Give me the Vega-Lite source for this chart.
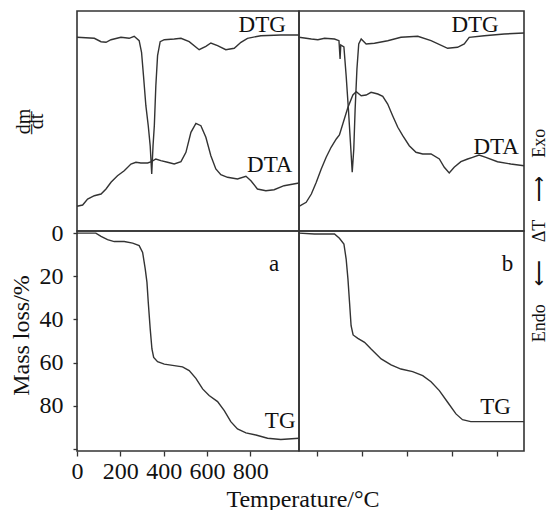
{
  "$schema": "https://vega.github.io/schema/vega-lite/v6.json",
  "padding": {"left": 8, "top": 10, "right": 0, "bottom": 0},
  "columns": 2,
  "spacing": 0,
  "bounds": "flush",
  "datasets": {
    "curves": [
      {"panel":"a","series":"DTG","T":0,"value":193.7},
      {"panel":"a","series":"DTG","T":80,"value":192.7},
      {"panel":"a","series":"DTG","T":111,"value":189.3},
      {"panel":"a","series":"DTG","T":134,"value":188.7},
      {"panel":"a","series":"DTG","T":157,"value":191.3},
      {"panel":"a","series":"DTG","T":203,"value":193.7},
      {"panel":"a","series":"DTG","T":241,"value":192.7},
      {"panel":"a","series":"DTG","T":264,"value":194.7},
      {"panel":"a","series":"DTG","T":287,"value":190.3},
      {"panel":"a","series":"DTG","T":298,"value":178.7},
      {"panel":"a","series":"DTG","T":307,"value":155.3},
      {"panel":"a","series":"DTG","T":318,"value":125.3},
      {"panel":"a","series":"DTG","T":329,"value":105.3},
      {"panel":"a","series":"DTG","T":338,"value":85},
      {"panel":"a","series":"DTG","T":345,"value":57},
      {"panel":"a","series":"DTG","T":351,"value":85},
      {"panel":"a","series":"DTG","T":357,"value":105.3},
      {"panel":"a","series":"DTG","T":364,"value":145.3},
      {"panel":"a","series":"DTG","T":372,"value":175.3},
      {"panel":"a","series":"DTG","T":384,"value":189.3},
      {"panel":"a","series":"DTG","T":403,"value":191.3},
      {"panel":"a","series":"DTG","T":449,"value":192},
      {"panel":"a","series":"DTG","T":480,"value":192.7},
      {"panel":"a","series":"DTG","T":518,"value":189.3},
      {"panel":"a","series":"DTG","T":564,"value":181.3},
      {"panel":"a","series":"DTG","T":595,"value":184.7},
      {"panel":"a","series":"DTG","T":618,"value":188},
      {"panel":"a","series":"DTG","T":649,"value":185.3},
      {"panel":"a","series":"DTG","T":687,"value":181.3},
      {"panel":"a","series":"DTG","T":726,"value":182.7},
      {"panel":"a","series":"DTG","T":757,"value":188.7},
      {"panel":"a","series":"DTG","T":787,"value":192.7},
      {"panel":"a","series":"DTG","T":849,"value":195.3},
      {"panel":"a","series":"DTG","T":941,"value":196},
      {"panel":"a","series":"DTG","T":1025,"value":196},
      {"panel":"a","series":"DTA","T":0,"value":24.7},
      {"panel":"a","series":"DTA","T":26,"value":26},
      {"panel":"a","series":"DTA","T":49,"value":32},
      {"panel":"a","series":"DTA","T":80,"value":35.3},
      {"panel":"a","series":"DTA","T":111,"value":37},
      {"panel":"a","series":"DTA","T":134,"value":42},
      {"panel":"a","series":"DTA","T":157,"value":48.7},
      {"panel":"a","series":"DTA","T":187,"value":55.3},
      {"panel":"a","series":"DTA","T":218,"value":60.3},
      {"panel":"a","series":"DTA","T":249,"value":67},
      {"panel":"a","series":"DTA","T":272,"value":68.7},
      {"panel":"a","series":"DTA","T":295,"value":68},
      {"panel":"a","series":"DTA","T":326,"value":68},
      {"panel":"a","series":"DTA","T":344,"value":69.3},
      {"panel":"a","series":"DTA","T":364,"value":72},
      {"panel":"a","series":"DTA","T":387,"value":70.3},
      {"panel":"a","series":"DTA","T":418,"value":68.7},
      {"panel":"a","series":"DTA","T":449,"value":67},
      {"panel":"a","series":"DTA","T":480,"value":69.3},
      {"panel":"a","series":"DTA","T":503,"value":78.7},
      {"panel":"a","series":"DTA","T":526,"value":98.7},
      {"panel":"a","series":"DTA","T":549,"value":107.7},
      {"panel":"a","series":"DTA","T":572,"value":105.3},
      {"panel":"a","series":"DTA","T":595,"value":93.7},
      {"panel":"a","series":"DTA","T":618,"value":75.3},
      {"panel":"a","series":"DTA","T":641,"value":62},
      {"panel":"a","series":"DTA","T":664,"value":56.3},
      {"panel":"a","series":"DTA","T":695,"value":53.7},
      {"panel":"a","series":"DTA","T":741,"value":52},
      {"panel":"a","series":"DTA","T":780,"value":54.7},
      {"panel":"a","series":"DTA","T":803,"value":50.3},
      {"panel":"a","series":"DTA","T":833,"value":42},
      {"panel":"a","series":"DTA","T":872,"value":40.3},
      {"panel":"a","series":"DTA","T":910,"value":41.3},
      {"panel":"a","series":"DTA","T":956,"value":45.3},
      {"panel":"a","series":"DTA","T":1025,"value":48},
      {"panel":"b","series":"DTG","T":18,"value":193.7},
      {"panel":"b","series":"DTG","T":73,"value":192},
      {"panel":"b","series":"DTG","T":102,"value":191.3},
      {"panel":"b","series":"DTG","T":132,"value":192.7},
      {"panel":"b","series":"DTG","T":176,"value":192},
      {"panel":"b","series":"DTG","T":196,"value":190.3},
      {"panel":"b","series":"DTG","T":201,"value":172},
      {"panel":"b","series":"DTG","T":204,"value":186},
      {"panel":"b","series":"DTG","T":218,"value":184},
      {"panel":"b","series":"DTG","T":228,"value":155.3},
      {"panel":"b","series":"DTG","T":238,"value":122},
      {"panel":"b","series":"DTG","T":247,"value":88.7},
      {"panel":"b","series":"DTG","T":255,"value":58.7},
      {"panel":"b","series":"DTG","T":262,"value":82},
      {"panel":"b","series":"DTG","T":268,"value":122},
      {"panel":"b","series":"DTG","T":276,"value":162},
      {"panel":"b","series":"DTG","T":284,"value":187},
      {"panel":"b","series":"DTG","T":295,"value":192},
      {"panel":"b","series":"DTG","T":317,"value":187},
      {"panel":"b","series":"DTG","T":354,"value":187.7},
      {"panel":"b","series":"DTG","T":413,"value":190.3},
      {"panel":"b","series":"DTG","T":472,"value":193.7},
      {"panel":"b","series":"DTG","T":547,"value":194.7},
      {"panel":"b","series":"DTG","T":606,"value":190.3},
      {"panel":"b","series":"DTG","T":680,"value":182.7},
      {"panel":"b","series":"DTG","T":724,"value":183.7},
      {"panel":"b","series":"DTG","T":754,"value":187},
      {"panel":"b","series":"DTG","T":776,"value":193.7},
      {"panel":"b","series":"DTG","T":843,"value":195.3},
      {"panel":"b","series":"DTG","T":932,"value":197},
      {"panel":"b","series":"DTG","T":1020,"value":198},
      {"panel":"b","series":"DTA","T":18,"value":24.7},
      {"panel":"b","series":"DTA","T":50,"value":28.7},
      {"panel":"b","series":"DTA","T":73,"value":37},
      {"panel":"b","series":"DTA","T":95,"value":48.7},
      {"panel":"b","series":"DTA","T":117,"value":62},
      {"panel":"b","series":"DTA","T":139,"value":73.7},
      {"panel":"b","series":"DTA","T":161,"value":83.7},
      {"panel":"b","series":"DTA","T":184,"value":92},
      {"panel":"b","series":"DTA","T":198,"value":96},
      {"panel":"b","series":"DTA","T":213,"value":107},
      {"panel":"b","series":"DTA","T":236,"value":123.7},
      {"panel":"b","series":"DTA","T":258,"value":136},
      {"panel":"b","series":"DTA","T":273,"value":139.3},
      {"panel":"b","series":"DTA","T":295,"value":135.3},
      {"panel":"b","series":"DTA","T":317,"value":136},
      {"panel":"b","series":"DTA","T":339,"value":138.7},
      {"panel":"b","series":"DTA","T":369,"value":137},
      {"panel":"b","series":"DTA","T":391,"value":134.7},
      {"panel":"b","series":"DTA","T":413,"value":127},
      {"panel":"b","series":"DTA","T":435,"value":115.3},
      {"panel":"b","series":"DTA","T":458,"value":103.7},
      {"panel":"b","series":"DTA","T":480,"value":95.3},
      {"panel":"b","series":"DTA","T":509,"value":85.3},
      {"panel":"b","series":"DTA","T":539,"value":78.7},
      {"panel":"b","series":"DTA","T":569,"value":77},
      {"panel":"b","series":"DTA","T":606,"value":77},
      {"panel":"b","series":"DTA","T":643,"value":72},
      {"panel":"b","series":"DTA","T":665,"value":63.7},
      {"panel":"b","series":"DTA","T":687,"value":58},
      {"panel":"b","series":"DTA","T":709,"value":63.7},
      {"panel":"b","series":"DTA","T":739,"value":69.3},
      {"panel":"b","series":"DTA","T":769,"value":72},
      {"panel":"b","series":"DTA","T":791,"value":73.7},
      {"panel":"b","series":"DTA","T":820,"value":76},
      {"panel":"b","series":"DTA","T":850,"value":73.7},
      {"panel":"b","series":"DTA","T":902,"value":69.3},
      {"panel":"b","series":"DTA","T":961,"value":67},
      {"panel":"b","series":"DTA","T":1020,"value":65.3},
      {"panel":"a","series":"TG","T":0,"value":0},
      {"panel":"a","series":"TG","T":87,"value":0},
      {"panel":"a","series":"TG","T":111,"value":1.5},
      {"panel":"a","series":"TG","T":141,"value":3},
      {"panel":"a","series":"TG","T":172,"value":3.9},
      {"panel":"a","series":"TG","T":218,"value":3.9},
      {"panel":"a","series":"TG","T":257,"value":4.6},
      {"panel":"a","series":"TG","T":287,"value":5.8},
      {"panel":"a","series":"TG","T":303,"value":8.9},
      {"panel":"a","series":"TG","T":315,"value":16.6},
      {"panel":"a","series":"TG","T":323,"value":22.8},
      {"panel":"a","series":"TG","T":329,"value":32},
      {"panel":"a","series":"TG","T":338,"value":44.4},
      {"panel":"a","series":"TG","T":346,"value":53.7},
      {"panel":"a","series":"TG","T":354,"value":57.6},
      {"panel":"a","series":"TG","T":372,"value":59.6},
      {"panel":"a","series":"TG","T":403,"value":60.7},
      {"panel":"a","series":"TG","T":449,"value":61.4},
      {"panel":"a","series":"TG","T":487,"value":62},
      {"panel":"a","series":"TG","T":518,"value":63.7},
      {"panel":"a","series":"TG","T":549,"value":67.3},
      {"panel":"a","series":"TG","T":580,"value":72.2},
      {"panel":"a","series":"TG","T":610,"value":75.3},
      {"panel":"a","series":"TG","T":649,"value":78.1},
      {"panel":"a","series":"TG","T":680,"value":82.3},
      {"panel":"a","series":"TG","T":710,"value":87.4},
      {"panel":"a","series":"TG","T":741,"value":90.8},
      {"panel":"a","series":"TG","T":780,"value":92.6},
      {"panel":"a","series":"TG","T":826,"value":93.6},
      {"panel":"a","series":"TG","T":880,"value":95.1},
      {"panel":"a","series":"TG","T":941,"value":95.7},
      {"panel":"a","series":"TG","T":1025,"value":95.1},
      {"panel":"b","series":"TG","T":18,"value":0},
      {"panel":"b","series":"TG","T":87,"value":0.4},
      {"panel":"b","series":"TG","T":176,"value":0.4},
      {"panel":"b","series":"TG","T":198,"value":2.4},
      {"panel":"b","series":"TG","T":218,"value":5},
      {"panel":"b","series":"TG","T":228,"value":12},
      {"panel":"b","series":"TG","T":236,"value":21.3},
      {"panel":"b","series":"TG","T":243,"value":32},
      {"panel":"b","series":"TG","T":250,"value":42.9},
      {"panel":"b","series":"TG","T":259,"value":47.2},
      {"panel":"b","series":"TG","T":280,"value":48.8},
      {"panel":"b","series":"TG","T":310,"value":50.6},
      {"panel":"b","series":"TG","T":339,"value":53.7},
      {"panel":"b","series":"TG","T":384,"value":58.3},
      {"panel":"b","series":"TG","T":428,"value":61.1},
      {"panel":"b","series":"TG","T":472,"value":63},
      {"panel":"b","series":"TG","T":524,"value":64.2},
      {"panel":"b","series":"TG","T":569,"value":66.1},
      {"panel":"b","series":"TG","T":606,"value":68.9},
      {"panel":"b","series":"TG","T":643,"value":73},
      {"panel":"b","series":"TG","T":680,"value":78.4},
      {"panel":"b","series":"TG","T":717,"value":83.8},
      {"panel":"b","series":"TG","T":746,"value":86.5},
      {"panel":"b","series":"TG","T":783,"value":87.4},
      {"panel":"b","series":"TG","T":843,"value":87.4},
      {"panel":"b","series":"TG","T":1020,"value":87.4}
    ],
    "labels": [
      {"panel":"a","row":"top","label":"DTG","T":855,"value":206},
      {"panel":"a","row":"top","label":"DTA","T":890,"value":66},
      {"panel":"b","row":"top","label":"DTG","T":802,"value":206},
      {"panel":"b","row":"top","label":"DTA","T":896,"value":84},
      {"panel":"a","row":"bottom","label":"a","T":910,"value":14.3},
      {"panel":"a","row":"bottom","label":"TG","T":938,"value":87.3},
      {"panel":"b","row":"bottom","label":"b","T":947,"value":14.3},
      {"panel":"b","row":"bottom","label":"TG","T":893,"value":80.6}
    ]
  },
  "concat": [
    {
      "width": 222, "height": 220,
      "layer": [
        {
          "data": {"name": "curves"},
          "transform": [{"filter": "datum.panel == 'a' && datum.series != 'TG'"}],
          "mark": {"type": "line", "color": "#333", "strokeWidth": 1.4},
          "encoding": {
            "x": {"field": "T", "type": "quantitative", "scale": {"domain": [0, 1025], "nice": false, "zero": false}, "axis": null},
            "y": {"field": "value", "type": "quantitative", "scale": {"domain": [0, 220], "nice": false},
                  "axis": {"labels": false, "ticks": false, "domain": false, "title": ["d\u0332m\u0332", "dt"], "titleFontSize": 20, "titleLineHeight": 13, "titleAngle": 270, "titleX": -47.5, "titleY": 110, "titleAlign": "center", "titleBaseline": "alphabetic"}},
            "detail": {"field": "series", "type": "nominal"}
          }
        },
        {
          "data": {"name": "labels"},
          "transform": [{"filter": "datum.panel == 'a' && datum.row == 'top'"}],
          "mark": {"type": "text", "fontSize": 23, "color": "#111", "align": "center", "baseline": "middle"},
          "encoding": {
            "x": {"field": "T", "type": "quantitative"},
            "y": {"field": "value", "type": "quantitative"},
            "text": {"field": "label", "type": "nominal"}
          }
        }
      ]
    },
    {
      "width": 225, "height": 220,
      "layer": [
        {
          "data": {"name": "curves"},
          "transform": [{"filter": "datum.panel == 'b' && datum.series != 'TG'"}],
          "mark": {"type": "line", "color": "#333", "strokeWidth": 1.4},
          "encoding": {
            "x": {"field": "T", "type": "quantitative", "scale": {"domain": [18, 1020], "nice": false, "zero": false}, "axis": null},
            "y": {"field": "value", "type": "quantitative", "scale": {"domain": [0, 220], "nice": false},
                  "axis": {"orient": "right", "labels": false, "ticks": false, "domain": false, "title": "Endo\u2003⟵\u2003ΔT\u2003⟶\u2003Exo", "titleFontSize": 18, "titleAngle": 270, "titleX": 15, "titleY": 224, "titleAlign": "center", "titleBaseline": "middle"}},
            "detail": {"field": "series", "type": "nominal"}
          }
        },
        {
          "data": {"name": "labels"},
          "transform": [{"filter": "datum.panel == 'b' && datum.row == 'top'"}],
          "mark": {"type": "text", "fontSize": 23, "color": "#111", "align": "center", "baseline": "middle"},
          "encoding": {
            "x": {"field": "T", "type": "quantitative"},
            "y": {"field": "value", "type": "quantitative"},
            "text": {"field": "label", "type": "nominal"}
          }
        }
      ]
    },
    {
      "width": 222, "height": 220,
      "layer": [
        {
          "data": {"name": "curves"},
          "transform": [{"filter": "datum.panel == 'a' && datum.series == 'TG'"}],
          "mark": {"type": "line", "color": "#333", "strokeWidth": 1.4},
          "encoding": {
            "x": {"field": "T", "type": "quantitative", "scale": {"domain": [0, 1025], "nice": false, "zero": false},
                  "axis": {"values": [0,100,200,300,400,500,600,700,800,900], "labelExpr": "datum.value % 200 == 0 ? datum.label : ''", "tickSize": 5, "labelPadding": 3, "labelFlush": false, "labelOverlap": false, "labelBound": false, "title": "Temperature/°C", "titleX": 225.5, "titleY": 55, "titleAlign": "center", "titleBaseline": "alphabetic"}},
            "y": {"field": "value", "type": "quantitative", "scale": {"domain": [-1, 101], "nice": false, "zero": false, "reverse": true},
                  "axis": {"values": [0,5,10,15,20,25,30,35,40,45,50,55,60,65,70,75,80,85,90,95,100], "labelExpr": "datum.value % 20 == 0 && datum.value < 100 ? datum.label : ''", "tickSize": 4, "labelPadding": 10, "labelFlush": false, "labelOverlap": false, "labelBound": false, "title": "Mass loss/%", "titleAngle": 270, "titleX": -55.5, "titleY": 104, "titleAlign": "center", "titleBaseline": "middle"}}
          }
        },
        {
          "data": {"name": "labels"},
          "transform": [{"filter": "datum.panel == 'a' && datum.row == 'bottom'"}],
          "mark": {"type": "text", "fontSize": 23, "color": "#111", "align": "center", "baseline": "middle"},
          "encoding": {
            "x": {"field": "T", "type": "quantitative"},
            "y": {"field": "value", "type": "quantitative"},
            "text": {"field": "label", "type": "nominal"}
          }
        }
      ]
    },
    {
      "width": 225, "height": 220,
      "layer": [
        {
          "data": {"name": "curves"},
          "transform": [{"filter": "datum.panel == 'b' && datum.series == 'TG'"}],
          "mark": {"type": "line", "color": "#333", "strokeWidth": 1.4},
          "encoding": {
            "x": {"field": "T", "type": "quantitative", "scale": {"domain": [18, 1020], "nice": false, "zero": false},
                  "axis": {"values": [100,200,300,400,500,600,700,800,900], "labelExpr": "datum.value % 200 == 0 ? datum.label : ''", "tickSize": 5, "labelPadding": 3, "labelFlush": false, "labelOverlap": false, "labelBound": false, "title": null}},
            "y": {"field": "value", "type": "quantitative", "scale": {"domain": [-1, 101], "nice": false, "zero": false, "reverse": true}, "axis": null}
          }
        },
        {
          "data": {"name": "labels"},
          "transform": [{"filter": "datum.panel == 'b' && datum.row == 'bottom'"}],
          "mark": {"type": "text", "fontSize": 23, "color": "#111", "align": "center", "baseline": "middle"},
          "encoding": {
            "x": {"field": "T", "type": "quantitative"},
            "y": {"field": "value", "type": "quantitative"},
            "text": {"field": "label", "type": "nominal"}
          }
        }
      ]
    }
  ],
  "config": {
    "font": "Liberation Serif",
    "view": {"stroke": "#333", "strokeWidth": 1.6},
    "axis": {"grid": false, "domain": false, "labelFont": "Liberation Serif", "titleFont": "Liberation Serif", "labelFontSize": 24, "titleFontSize": 24, "titleFontWeight": "normal", "labelColor": "#111", "titleColor": "#111", "tickColor": "#333", "tickWidth": 1.3},
    "text": {"font": "Liberation Serif"}
  }
}
